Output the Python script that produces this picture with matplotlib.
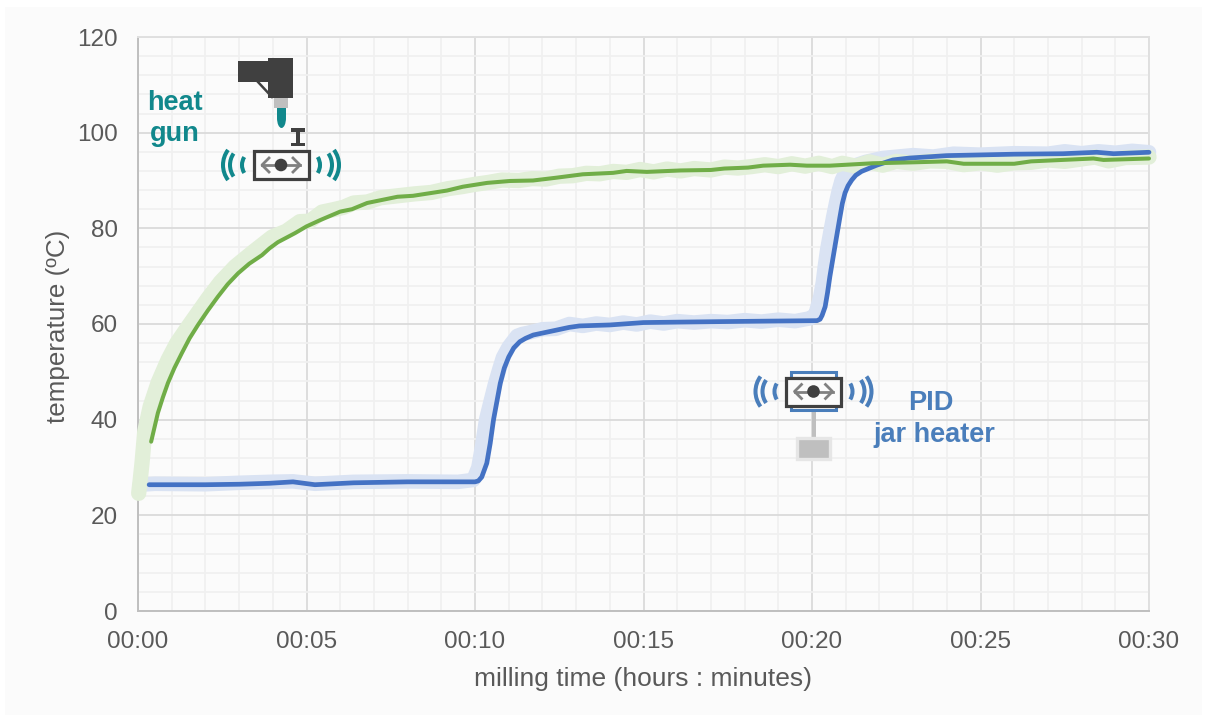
import matplotlib
matplotlib.use('Agg')
import matplotlib.pyplot as plt
from matplotlib.patches import Rectangle, Circle, Arc, Ellipse, Polygon
from matplotlib.ticker import MultipleLocator, FuncFormatter

# minutes, deg C
green_raw_t = [0.02, 0.06, 0.12, 0.2, 0.36, 0.6, 0.89, 1.15, 1.48, 1.8, 2.08, 2.45, 2.88, 3.4, 3.98, 4.4, 4.8, 5.1, 5.46, 5.8, 6.1, 6.4, 6.8, 7.2, 7.7, 8.2, 8.7, 9.2, 9.6, 10.0, 10.4, 10.8, 11.3, 11.7, 12.1, 12.5, 12.9, 13.3, 13.7, 14.1, 14.5, 14.9, 15.3, 15.7, 16.1, 16.5, 17.0, 17.4, 17.8, 18.2, 18.6, 19.0, 19.4, 19.8, 20.2, 20.6, 20.9, 21.3, 21.7, 22.1, 22.5, 23.0, 23.5, 24.0, 24.5, 25.0, 25.5, 26.0, 26.5, 27.0, 27.5, 28.0, 28.4, 28.8, 29.3, 30.0]
green_raw_v = [24.6, 27.0, 31.0, 37.5, 42.7, 47.8, 52.5, 56.0, 59.4, 62.6, 65.4, 68.8, 72.0, 75.0, 78.2, 79.4, 81.4, 81.5, 83.4, 83.9, 84.4, 85.3, 85.5, 86.4, 86.8, 87.2, 87.5, 88.3, 88.7, 89.2, 89.6, 90.1, 90.0, 90.4, 90.3, 90.9, 91.0, 91.5, 91.4, 91.9, 91.7, 92.3, 91.8, 92.4, 92.0, 92.5, 92.2, 92.8, 92.6, 92.9, 93.3, 92.9, 93.5, 93.0, 93.6, 92.9, 93.6, 93.0, 93.9, 93.2, 94.0, 93.6, 94.1, 94.0, 93.3, 93.7, 93.2, 93.7, 93.8, 94.3, 94.0, 94.5, 94.9, 94.1, 94.8, 94.9]
green_t = [0.39, 0.59, 0.74, 0.89, 1.08, 1.3, 1.53, 1.78, 2.07, 2.37, 2.66, 2.97, 3.3, 3.68, 3.9, 4.15, 4.66, 5.0, 5.4, 6.0, 6.35, 6.8, 7.7, 8.16, 9.17, 9.64, 10.36, 11.04, 11.72, 12.43, 13.2, 14.1, 14.5, 15.1, 16.1, 17.0, 17.4, 18.1, 18.55, 19.35, 19.85, 20.53, 21.8, 23.0, 24.0, 24.5, 26.0, 26.5, 28.35, 28.65, 30.0]
green_v = [35.4, 41.4, 44.7, 47.7, 50.8, 53.9, 57.0, 59.8, 62.8, 65.7, 68.3, 70.6, 72.6, 74.4, 75.8, 77.1, 79.0, 80.4, 81.7, 83.5, 84.0, 85.3, 86.6, 86.8, 87.9, 88.7, 89.5, 89.9, 90.0, 90.6, 91.3, 91.6, 92.0, 91.8, 92.1, 92.2, 92.5, 92.7, 93.1, 93.3, 93.1, 93.1, 93.6, 93.8, 94.0, 93.5, 93.5, 94.0, 94.6, 94.3, 94.6]
blue_raw_t = [0.05, 0.5, 2.0, 3.0, 3.9, 4.6, 5.25, 6.4, 8.0, 9.5, 9.95, 10.1, 10.2, 10.33, 10.47, 10.6, 10.72, 10.83, 11.0, 11.25, 11.4, 11.6, 12.0, 12.4, 12.8, 13.2, 13.6, 14.0, 14.4, 14.8, 15.2, 15.6, 16.0, 16.5, 17.0, 17.5, 18.0, 18.5, 19.0, 19.5, 19.95, 20.1, 20.24, 20.32, 20.38, 20.45, 20.54, 20.63, 20.72, 20.8, 20.88, 20.98, 21.12, 21.3, 21.6, 22.1, 23.0, 23.6, 24.2, 25.0, 26.0, 27.0, 27.5, 28.0, 28.5, 29.0, 29.5, 30.0]
blue_raw_v = [26.4, 26.6, 26.5, 26.8, 27.0, 27.1, 26.6, 27.0, 27.1, 27.0, 27.4, 30.0, 34.0, 40.0, 44.0, 47.6, 50.5, 53.0, 55.2, 57.5, 57.9, 58.2, 58.9, 59.0, 60.0, 59.6, 60.1, 59.8, 60.3, 59.9, 60.5, 60.1, 60.6, 60.3, 60.6, 60.4, 60.8, 60.5, 60.9, 60.6, 61.2, 62.0, 65.5, 68.6, 72.0, 75.5, 79.0, 82.4, 85.5, 88.0, 90.0, 91.5, 92.5, 93.2, 93.9, 94.7, 95.3, 95.0, 95.6, 95.4, 95.7, 95.6, 96.1, 95.7, 96.1, 95.8, 96.2, 95.9]
blue_t = [0.33, 2.0, 3.0, 3.9, 4.6, 5.25, 6.4, 8.0, 9.5, 10.0, 10.1, 10.2, 10.35, 10.45, 10.55, 10.75, 10.87, 11.0, 11.15, 11.33, 11.5, 11.73, 12.2, 12.8, 13.1, 14.0, 15.0, 16.1, 17.3, 18.66, 20.15, 20.24, 20.3, 20.39, 20.46, 20.53, 20.68, 20.83, 20.9, 20.98, 21.07, 21.18, 21.3, 21.47, 21.92, 22.4, 22.9, 24.0, 26.0, 27.45, 28.45, 28.95, 30.0]
blue_v = [26.4, 26.4, 26.5, 26.7, 27.0, 26.4, 26.8, 27.0, 27.0, 27.0, 27.2, 28.0, 30.9, 35.0, 40.0, 47.6, 50.8, 53.1, 55.0, 56.3, 57.0, 57.7, 58.4, 59.3, 59.6, 59.8, 60.3, 60.4, 60.5, 60.6, 60.7, 61.0, 61.8, 63.6, 66.5, 69.9, 76.2, 82.4, 85.2, 87.4, 88.9, 90.1, 91.1, 91.9, 93.2, 94.3, 94.7, 95.2, 95.5, 95.6, 95.9, 95.6, 95.9]

x_major = [0, 5, 10, 15, 20, 25, 30]
y_major = [0, 20, 40, 60, 80, 100, 120]

W, H = 1207, 722
BG = '#fbfbfb'
GREEN = '#70ad47'
GREEN_L = '#e2efd9'
BLUE = '#4472c4'
BLUE_L = '#dae3f3'
TEAL = '#11888c'
ICON_BLUE = '#4a7ebb'
DARK = '#404040'
TXT = '#595959'

plt.rcParams['font.family'] = ['Liberation Sans', 'DejaVu Sans']

fig = plt.figure(figsize=(W / 100, H / 100), dpi=100, facecolor='white')

# the slightly grey card behind everything
bg = fig.add_axes([0, 0, 1, 1])
bg.set_xlim(0, W)
bg.set_ylim(H, 0)
bg.axis('off')
bg.add_patch(Rectangle((5, 7), W - 10, H - 14, fc=BG, ec='none'))

ax = fig.add_axes([138 / W, 1 - 611 / H, (1149 - 138) / W, (611 - 37) / H])
ax.set_facecolor(BG)
ax.set_xlim(0, 30)
ax.set_ylim(0, 120)
ax.set_axisbelow(True)
ax.xaxis.set_major_locator(MultipleLocator(5))
ax.xaxis.set_minor_locator(MultipleLocator(1))
ax.yaxis.set_major_locator(MultipleLocator(20))
ax.yaxis.set_minor_locator(MultipleLocator(4))
ax.grid(which='minor', color='#f0f0f0', lw=1.25)
ax.grid(which='major', color='#d9d9d9', lw=1.25)
ax.tick_params(which='both', length=0)
ax.tick_params(which='major', labelsize=17.5, labelcolor=TXT, pad=14.5)
ax.set_xticks(x_major)
ax.set_yticks(y_major)
ax.xaxis.set_major_formatter(FuncFormatter(lambda v, p: f'00:{int(v):02d}'))
for side in ['top', 'right']:
    ax.spines[side].set_color('#e0e0e0')
    ax.spines[side].set_linewidth(1.4)
for side in ['left', 'bottom']:
    ax.spines[side].set_color('#bfbfbf')
    ax.spines[side].set_linewidth(1.4)

ax.plot(blue_raw_t, blue_raw_v, color=BLUE_L, lw=10.5, solid_capstyle='round', solid_joinstyle='round', clip_on=False, zorder=3)
ax.plot(green_raw_t, green_raw_v, color=GREEN_L, lw=11, solid_capstyle='round', solid_joinstyle='round', clip_on=False, zorder=3)
ax.plot(blue_t, blue_v, color=BLUE, lw=3.4, solid_capstyle='round', solid_joinstyle='round', clip_on=False, zorder=4)
ax.plot(green_t, green_v, color=GREEN, lw=2.9, solid_capstyle='round', solid_joinstyle='round', clip_on=False, zorder=5)

ax.set_xlabel('milling time (hours : minutes)', fontsize=19, color=TXT)
ax.set_ylabel('temperature (ºC)', fontsize=18.7, color=TXT)
ax.xaxis.set_label_coords(0.5, -0.0976)
ax.yaxis.set_label_coords(-0.067, 0.495)

# icons live on a pixel-coordinate overlay
ov = fig.add_axes([0, 0, 1, 1], facecolor='none')
ov.set_xlim(0, W)
ov.set_ylim(H, 0)
ov.axis('off')


def stage(cx, cy, wave_color):
    ov.add_patch(Rectangle((cx - 27.5, cy - 14), 55, 28, fc='#fbfbfb', ec=DARK, lw=2.3, zorder=6))
    ov.plot([cx - 19, cx + 19], [cy, cy], color='#808080', lw=2, zorder=7)
    for s in (-1, 1):
        ov.plot([cx + s * 12, cx + s * 19, cx + s * 12], [cy - 7, cy, cy + 7], color='#808080', lw=2, zorder=7)
    ov.add_patch(Circle((cx, cy), 6.3, fc=DARK, ec='none', zorder=8))
    # offset from centre, radius, half angle of the three wave arcs
    for off, r, sp in ((24, 15, 32), (31, 20, 35), (33, 25, 37)):
        ov.add_patch(Arc((cx + off, cy), 2 * r, 2 * r, theta1=-sp, theta2=sp, color=wave_color, lw=2.9, zorder=6))
        ov.add_patch(Arc((cx - off, cy), 2 * r, 2 * r, theta1=180 - sp, theta2=180 + sp, color=wave_color, lw=2.9, zorder=6))


# heat gun
ov.add_patch(Polygon([(238, 61), (268, 61), (268, 58), (293, 58), (293, 98), (268, 98), (268, 82), (238, 82)], fc=DARK, ec='none', zorder=6))
ov.plot([258, 272], [82, 97], color=DARK, lw=1.8, zorder=6)
ov.add_patch(Rectangle((274, 98), 14, 10, fc='#bfbfbf', ec='none', zorder=6))
ov.add_patch(Ellipse((281.5, 118), 9, 20, fc=TEAL, ec='none', zorder=6))
ov.add_patch(Rectangle((277, 108), 9, 9, fc=TEAL, ec='none', zorder=6))
ov.add_patch(Rectangle((291, 128), 14, 3.5, fc=DARK, ec='none', zorder=6))
ov.add_patch(Rectangle((291, 142.5), 14, 3.5, fc=DARK, ec='none', zorder=6))
ov.add_patch(Rectangle((296, 128), 4, 18, fc=DARK, ec='none', zorder=6))
stage(281, 165, TEAL)
ov.text(175, 102.5, 'heat', color=TEAL, fontsize=19.5, fontweight='bold', ha='center', va='center', zorder=6)
ov.text(175, 134, 'gun', color=TEAL, fontsize=19.5, fontweight='bold', ha='center', va='center', zorder=6)

# PID jar heater
ov.add_patch(Rectangle((812, 405), 4, 36, fc='#bfbfbf', ec='none', zorder=5))
ov.add_patch(Rectangle((796.5, 438), 33, 21, fc='#bfbfbf', ec='#e6e6e6', lw=2.4, zorder=6))
ov.add_patch(Rectangle((791, 372), 45, 38, fc=BG, ec=ICON_BLUE, lw=2.2, zorder=5))
stage(813.5, 391.5, ICON_BLUE)
ov.text(931, 403, 'PID', color=ICON_BLUE, fontsize=19.5, fontweight='bold', ha='center', va='center', zorder=6)
ov.text(934, 435, 'jar heater', color=ICON_BLUE, fontsize=19.5, fontweight='bold', ha='center', va='center', zorder=6)

fig.savefig('out.png', dpi=100)
